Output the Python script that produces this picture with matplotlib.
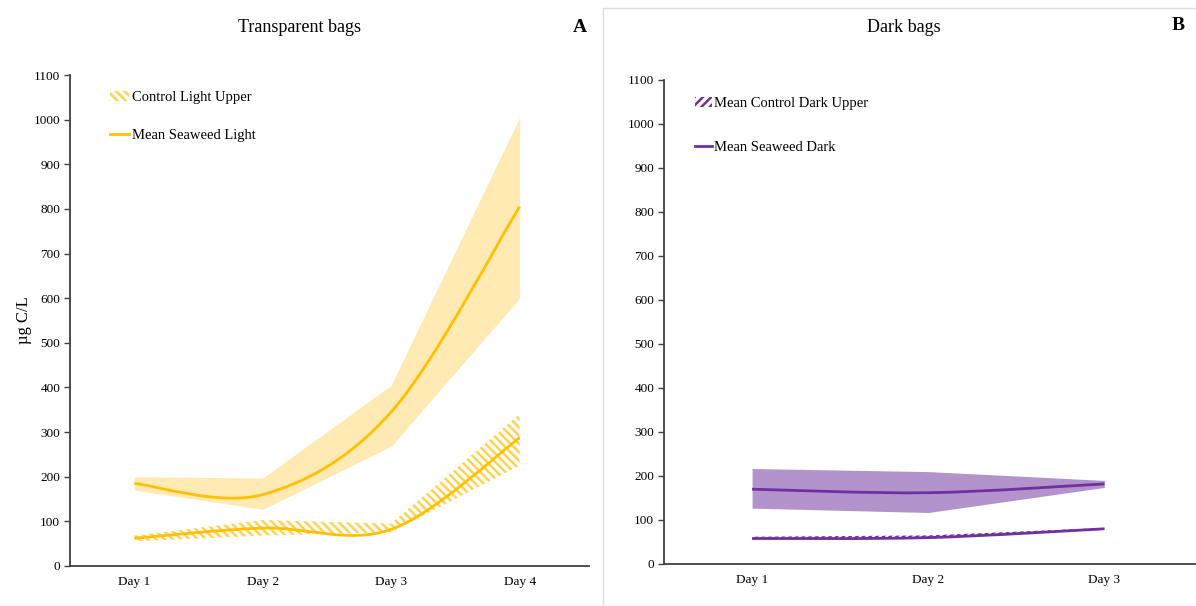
import matplotlib
matplotlib.use('Agg')
import matplotlib.pyplot as plt
from matplotlib.path import Path
from matplotlib.patches import PathPatch, Patch, Rectangle
from matplotlib.lines import Line2D

days_light = ['Day 1', 'Day 2', 'Day 3', 'Day 4']
seaweed_light_mean = [185, 160, 345, 805]
seaweed_light_low = [170, 127, 268, 600]
seaweed_light_high = [200, 197, 405, 1005]
control_light_mean = [62, 85, 82, 287]
control_light_low = [55, 68, 76, 225]
control_light_high = [68, 103, 95, 340]

days_dark = ['Day 1', 'Day 2', 'Day 3']
seaweed_dark_mean = [170, 162, 182]
seaweed_dark_low = [127, 117, 174]
seaweed_dark_high = [217, 210, 190]
control_dark_mean = [58, 60, 80]
control_dark_low = [56, 57, 78]
control_dark_high = [62, 65, 82]

YELLOW = '#FFC000'
YELLOW_HATCH = '#FFD34F'
YELLOW_BAND = '#FFEAB3'
PURPLE = '#7030A0'
PURPLE_BAND = '#B393CC'

plt.rcParams['font.family'] = ['Liberation Serif', 'DejaVu Serif']
plt.rcParams['hatch.linewidth'] = 1.8


def smooth_line(ax, ys, color, lw=2.0):
    # excel style smoothed line: cubic bezier through the points
    xs = list(range(1, len(ys) + 1))
    pts = list(zip(xs, ys))
    verts = [pts[0]]
    codes = [Path.MOVETO]
    n = len(pts)
    for i in range(n - 1):
        p0 = pts[max(i - 1, 0)]
        p1 = pts[i]
        p2 = pts[i + 1]
        p3 = pts[min(i + 2, n - 1)]
        c1 = (p1[0] + (p2[0] - p0[0]) / 6, p1[1] + (p2[1] - p0[1]) / 6)
        c2 = (p2[0] - (p3[0] - p1[0]) / 6, p2[1] - (p3[1] - p1[1]) / 6)
        verts += [c1, c2, p2]
        codes += [Path.CURVE4] * 3
    ax.add_patch(PathPatch(Path(verts, codes), facecolor='none',
                           edgecolor=color, lw=lw, zorder=4))


def style_axes(ax, labels, xmax):
    ax.set_xlim(0.5, xmax)
    ax.set_ylim(0, 1100)
    ax.set_yticks(range(0, 1101, 100))
    ax.set_xticks(range(1, len(labels) + 1))
    ax.set_xticklabels(labels)
    for s in ['top', 'right']:
        ax.spines[s].set_visible(False)
    for s in ['left', 'bottom']:
        ax.spines[s].set_color('#404040')
        ax.spines[s].set_linewidth(1.3)
    ax.tick_params(axis='y', direction='out', length=4, width=1,
                   color='#404040', labelsize=9.5, pad=3)
    ax.tick_params(axis='x', length=0, labelsize=9.5, pad=7)


fig = plt.figure(figsize=(11.96, 6.06), dpi=100)

# panel A
axA = fig.add_axes([70 / 1196, 40 / 606, 519 / 1196, 491 / 606])
xa = range(1, len(days_light) + 1)
axA.fill_between(xa, seaweed_light_low, seaweed_light_high,
                 color=YELLOW_BAND, lw=0, zorder=1)
axA.fill_between(xa, control_light_low, control_light_high,
                 facecolor='none', edgecolor=YELLOW_HATCH, hatch='\\\\\\\\',
                 lw=0, zorder=2)
smooth_line(axA, seaweed_light_mean, YELLOW)
smooth_line(axA, control_light_mean, YELLOW)
style_axes(axA, days_light, 4.54)
axA.set_ylabel('µg C/L', fontsize=12, labelpad=1)
handlesA = [Patch(facecolor='none', edgecolor=YELLOW_HATCH, hatch='\\\\\\\\', lw=0),
            Line2D([], [], color=YELLOW, lw=2)]
axA.legend(handlesA, ['Control Light Upper', 'Mean Seaweed Light'],
           loc='upper left', bbox_to_anchor=(0.077, 0.967), frameon=False,
           fontsize=10.5, handlelength=1.3, handletextpad=0.2,
           labelspacing=1.7, borderpad=0, borderaxespad=0)

# panel B
axB = fig.add_axes([664 / 1196, 42 / 606, 532 / 1196, 484 / 606])
xb = range(1, len(days_dark) + 1)
axB.fill_between(xb, seaweed_dark_low, seaweed_dark_high,
                 color=PURPLE_BAND, lw=0, zorder=1)
axB.fill_between(xb, control_dark_low, control_dark_high,
                 facecolor='none', edgecolor=PURPLE, hatch='/////',
                 lw=0, zorder=2)
smooth_line(axB, seaweed_dark_mean, PURPLE)
smooth_line(axB, control_dark_mean, PURPLE)
style_axes(axB, days_dark, 3.52)
handlesB = [Patch(facecolor='none', edgecolor=PURPLE, hatch='////', lw=0),
            Line2D([], [], color=PURPLE, lw=2)]
axB.legend(handlesB, ['Mean Control Dark Upper', 'Mean Seaweed Dark'],
           loc='upper left', bbox_to_anchor=(0.058, 0.965), frameon=False,
           fontsize=10.5, handlelength=1.2, handletextpad=0.1,
           labelspacing=2.1, borderpad=0, borderaxespad=0)

# titles, panel B frame and panel letters
fig.text(300 / 1196, 1 - 28 / 606, 'Transparent bags', fontsize=13,
         ha='center', va='center')
fig.text(904 / 1196, 1 - 28 / 606, 'Dark bags', fontsize=13,
         ha='center', va='center')
fig.add_artist(Rectangle((603 / 1196, -0.01), 0.6, 0.997, transform=fig.transFigure,
                         fill=False, edgecolor='#DDDDDD', lw=1))
fig.text(580 / 1196, 1 - 27 / 606, 'A', fontsize=14, fontweight='bold',
         ha='center', va='center')
fig.text(1178 / 1196, 1 - 25 / 606, 'B', fontsize=14, fontweight='bold',
         ha='center', va='center')

fig.savefig('out.png', dpi=100, facecolor='white')
